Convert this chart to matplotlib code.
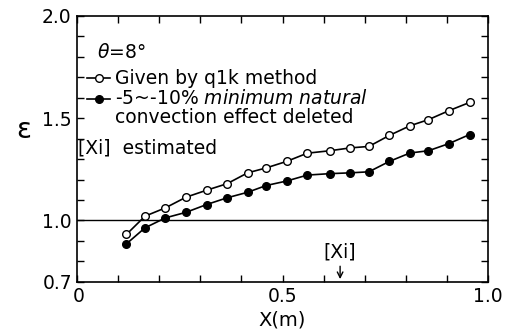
import numpy as np
import matplotlib
matplotlib.use('Agg')
import matplotlib.pyplot as plt

# distance from leading edge (m)
x_pos = [0.12, 0.165, 0.215, 0.265, 0.315, 0.365, 0.415, 0.46, 0.51,
         0.56, 0.615, 0.665, 0.71, 0.76, 0.81, 0.855, 0.905, 0.955]
# epsilon, q1k method
eps_q1k = [0.932, 1.021, 1.062, 1.114, 1.148, 1.180, 1.233, 1.257, 1.289,
           1.329, 1.341, 1.355, 1.362, 1.416, 1.463, 1.493, 1.537, 1.577]
# epsilon with natural convection effect removed
eps_nc = [0.886, 0.964, 1.013, 1.040, 1.078, 1.111, 1.138, 1.171, 1.193,
          1.222, 1.229, 1.233, 1.238, 1.289, 1.330, 1.341, 1.376, 1.420]
xi_est = 0.64

x_ticks = np.round(np.arange(0, 1.01, 0.1), 1)
x_labels = {0.5: '0.5', 1.0: '1.0'}
y_ticks = np.round(np.arange(0.7, 2.01, 0.1), 1)
y_labels = {1.0: '1.0', 1.5: '1.5', 2.0: '2.0'}

fig = plt.figure(figsize=(5.11, 3.32), dpi=100)
ax = fig.add_axes([0.151, 0.151, 0.804, 0.801])

lw = 1.2
ms = 5.5
ax.plot(x_pos, eps_q1k, '-o', color='black', mfc='white', mec='black',
        ms=ms, lw=lw, mew=1.0)
ax.plot(x_pos, eps_nc, '-o', color='black', mfc='black', mec='black',
        ms=ms, lw=lw)
ax.axhline(1.0, color='black', lw=1.0)

ax.set_xlim(0, 1.0)
ax.set_ylim(0.7, 2.0)
ax.set_xticks(x_ticks)
ax.set_xticklabels([x_labels.get(v, '') for v in x_ticks])
ax.set_yticks(y_ticks)
ax.set_yticklabels([y_labels.get(v, '') for v in y_ticks])
ax.tick_params(direction='in', top=True, right=True, length=5, width=1.0,
               labelsize=13.5)
ax.tick_params(axis='x', pad=4)
ax.tick_params(axis='y', pad=4)
for s in ax.spines.values():
    s.set_linewidth(1.2)

# corner labels, offset so they don't collide
ax.annotate('0.7', xy=(0, 0), xycoords='axes fraction', xytext=(-5, -2),
            textcoords='offset pixels', ha='right', va='center', fontsize=13.5)
ax.annotate('0', xy=(0, 0), xycoords='axes fraction', xytext=(2, -15),
            textcoords='offset pixels', ha='center', va='center', fontsize=13.5)

ax.set_xlabel('X(m)', fontsize=14, labelpad=3)
ax.set_ylabel('ε', fontsize=20, rotation=0, va='center')
ax.yaxis.set_label_coords(-0.129, 0.571)

tr = ax.transAxes
fs = 13.5
ax.text(0.049, 0.861, r'$\theta$=8°', transform=tr, fontsize=fs, va='center')
ax.plot([0.024, 0.080], [0.765, 0.765], '-', color='black', lw=lw, transform=tr)
ax.plot([0.053], [0.765], 'o', mfc='white', mec='black', ms=ms, transform=tr)
ax.text(0.092, 0.765, 'Given by q1k method', transform=tr, fontsize=fs, va='center')
ax.plot([0.024, 0.080], [0.688, 0.688], '-', color='black', lw=lw, transform=tr)
ax.plot([0.053], [0.688], 'o', mfc='black', mec='black', ms=ms, transform=tr)
ax.text(0.092, 0.688, r'-5~-10% $\it{minimum\ natural}$', transform=tr,
        fontsize=fs, va='center')
ax.text(0.092, 0.618, 'convection effect deleted', transform=tr, fontsize=fs, va='center')
ax.text(0.003, 0.504, '[Xi]  estimated', transform=tr, fontsize=fs, va='center')

ax.annotate('', xy=(xi_est, 0.7), xytext=(xi_est, 0.79),
            arrowprops=dict(arrowstyle='->', color='black', lw=1.0))
ax.text(xi_est, 0.844, '[Xi]', fontsize=fs, ha='center', va='center')

fig.savefig('out.png', dpi=100)
